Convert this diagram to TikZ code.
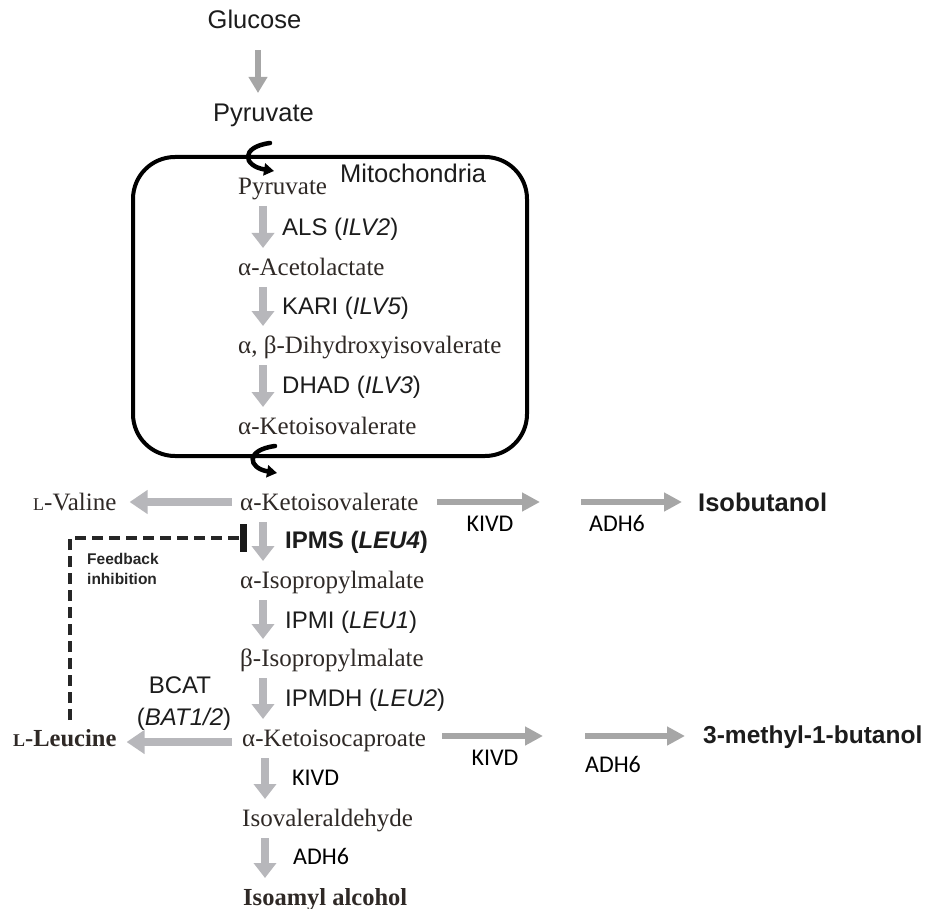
\documentclass[tikz,border=0pt]{standalone}
\usepackage{fontspec}
\setmainfont{Liberation Serif}
\newfontfamily\arial{Liberation Sans}
\newfontfamily\calib{Carlito}
\usetikzlibrary{arrows.meta}
\definecolor{serifc}{HTML}{2F2926}
\definecolor{labc}{HTML}{1C1C1C}
\definecolor{vgray}{HTML}{B7B7BB}
\definecolor{rgray}{HTML}{A6A6A6}
\tikzset{
  met/.style={inner sep=0pt, anchor=west, text=serifc, font=\fontsize{25}{28}\selectfont, text height=16.5pt, text depth=0pt},
  sanslab/.style={inner sep=0pt, anchor=west, text=labc, font=\arial\fontsize{24}{28}\selectfont, text height=17pt, text depth=0pt},
  callab/.style={inner sep=0pt, text=black, font=\calib\fontsize{24}{28}\selectfont, text height=15.5pt, text depth=0pt},
  varr/.style={draw=vgray, line width=8pt, -{Triangle[length=15pt,width=22pt]}, shorten <=20pt, shorten >=19pt},
  harr/.style={draw=vgray, line width=7.5pt, -{Triangle[length=18pt,width=23pt]}},
  rarr/.style={draw=rgray, line width=5.5pt, -{Triangle[length=18pt,width=18pt]}},
  topar/.style={draw=rgray, line width=6pt, -{Triangle[length=16pt,width=18pt]}},
  hook/.style={draw=black, line width=4.5pt, line cap=round, -{Triangle[length=10pt,width=12pt]}},
  fb/.style={draw=black!85, line width=3.5pt, dash pattern=on 11pt off 6pt},
}
\begin{document}
\begin{tikzpicture}[x=1pt,y=-1pt]
\useasboundingbox (0,0) rectangle (947,909);
\coordinate (colx) at (263,0);

% top
\node[sanslab, anchor=center, font=\arial\fontsize{25.5}{28}\selectfont, text height=18pt] (glc) at (254.5,20) {Glucose};
\node[sanslab, anchor=center, font=\arial\fontsize{25.5}{28}\selectfont, text height=18pt] (pyr0) at (263.5,113) {Pyruvate};
\coordinate (g1) at (258,50);
\coordinate (g2) at (258,93);
\draw[topar] (g1) -- (g2);

% mitochondrion
\draw[line width=4pt, rounded corners=42pt] (133,157) rectangle (527,456);
\node[sanslab, font=\arial\fontsize{25.5}{28}\selectfont, text height=18pt] (mito) at (340,174) {Mitochondria};
\draw[hook] (270,143) .. controls (240,147) and (243,166) .. (274,171);
\draw[hook] (275,446) .. controls (245,450) and (248,468) .. (277,473);

% inner metabolites
\node[met] (pyr) at (238,186) {Pyruvate};
\node[met] (ace) at (238,267) {α-Acetolactate};
\node[met] (dhi) at (238,345) {α, β-Dihydroxyisovalerate};
\node[met] (kiv1) at (238,426) {α-Ketoisovalerate};
\draw[varr] (colx |- pyr) -- (colx |- ace);
\draw[varr] (colx |- ace) -- (colx |- dhi);
\draw[varr] (colx |- dhi) -- (colx |- kiv1);
\node[sanslab] (als) at (282,227) {ALS (\textit{ILV2})};
\node[sanslab] (kari) at (282,306) {KARI (\textit{ILV5})};
\node[sanslab] (dhad) at (282,385) {DHAD (\textit{ILV3})};

% leucine branch
\node[met] (kiv) at (240,502) {α-Ketoisovalerate};
\node[met] (val) at (33,502) {{\fontsize{18}{20}\selectfont L}-Valine};
\draw[harr] ([xshift=-8pt]kiv.west) -- ([xshift=13pt]val.east);
\node[met] (ipm) at (240,580) {α-Isopropylmalate};
\node[met] (bipm) at (240,658) {β-Isopropylmalate};
\node[met] (kic) at (242,738) {α-Ketoisocaproate};
\node[met] (iva) at (242,818) {Isovaleraldehyde};
\node[met, font=\bfseries\fontsize{24.5}{28}\selectfont] (iaa) at (243,897) {Isoamyl alcohol};
\node[met, font=\bfseries\fontsize{24.5}{28}\selectfont] (leu) at (13,738) {{\fontsize{18}{20}\selectfont L}-Leucine};
\draw[varr] (colx |- kiv) -- (colx |- ipm);
\draw[varr] (colx |- ipm) -- (colx |- bipm);
\draw[varr] (colx |- bipm) -- (colx |- kic);
\draw[varr] ([xshift=2pt]colx |- kic) -- ([xshift=2pt]colx |- iva);
\draw[varr] ([xshift=2pt]colx |- iva) -- ([xshift=2pt]colx |- iaa);
\draw[harr] ([xshift=-10pt,yshift=-4pt]kic.west) -- ([xshift=10pt,yshift=-4pt]leu.east);

\node[sanslab, font=\arial\bfseries\fontsize{24}{28}\selectfont] (ipms) at (285,540) {IPMS (\textit{LEU4})};
\node[sanslab] (ipmi) at (285,620) {IPMI (\textit{LEU1})};
\node[sanslab] (ipmdh) at (285,698) {IPMDH (\textit{LEU2})};
\node[callab, anchor=west] (kivd3) at (292,778) {KIVD};
\node[callab, anchor=west] (adh3) at (293,857) {ADH6};
\node[sanslab, anchor=center] (bcat) at (180,685) {BCAT};
\node[sanslab, anchor=center] (bat) at (184,717) {(\textit{BAT1/2})};

% feedback inhibition
\coordinate (bar) at (243,538);
\coordinate (fbx) at (70,720);
\draw[fb] (fbx) |- ([xshift=-3pt]bar);
\draw[line width=7pt, draw=black!90] (243,524) -- (243,552);
\node[inner sep=0pt, anchor=north west, align=left, text=black!85, font=\arial\bfseries\fontsize{15.5}{20}\selectfont] (fbtxt) at (87,553) {Feedback\\inhibition};

% side pathways
\coordinate (k1a) at (437,502);
\coordinate (k1b) at (540,502);
\coordinate (a1a) at (581,502);
\node[sanslab, font=\arial\bfseries\fontsize{25.5}{28}\selectfont, text height=18pt] (ibu) at (698,502) {Isobutanol};
\draw[rarr] (k1a) -- (k1b);
\draw[rarr] (a1a) -- ([xshift=-16pt]ibu.west);
\node[callab] (kivd1) at (490,524) {KIVD};
\node[callab] (adh1) at (617,524) {ADH6};

\coordinate (k2a) at (442,736);
\coordinate (k2b) at (543,736);
\coordinate (a2a) at (585,736);
\node[sanslab, font=\arial\bfseries\fontsize{24.5}{28}\selectfont] (mb) at (703,735) {3-methyl-1-butanol};
\draw[rarr] (k2a) -- (k2b);
\draw[rarr] (a2a) -- ([xshift=-18pt]mb.west |- a2a);
\node[callab] (kivd2) at (495,758) {KIVD};
\node[callab] (adh2) at (613,765) {ADH6};
\end{tikzpicture}
\end{document}
